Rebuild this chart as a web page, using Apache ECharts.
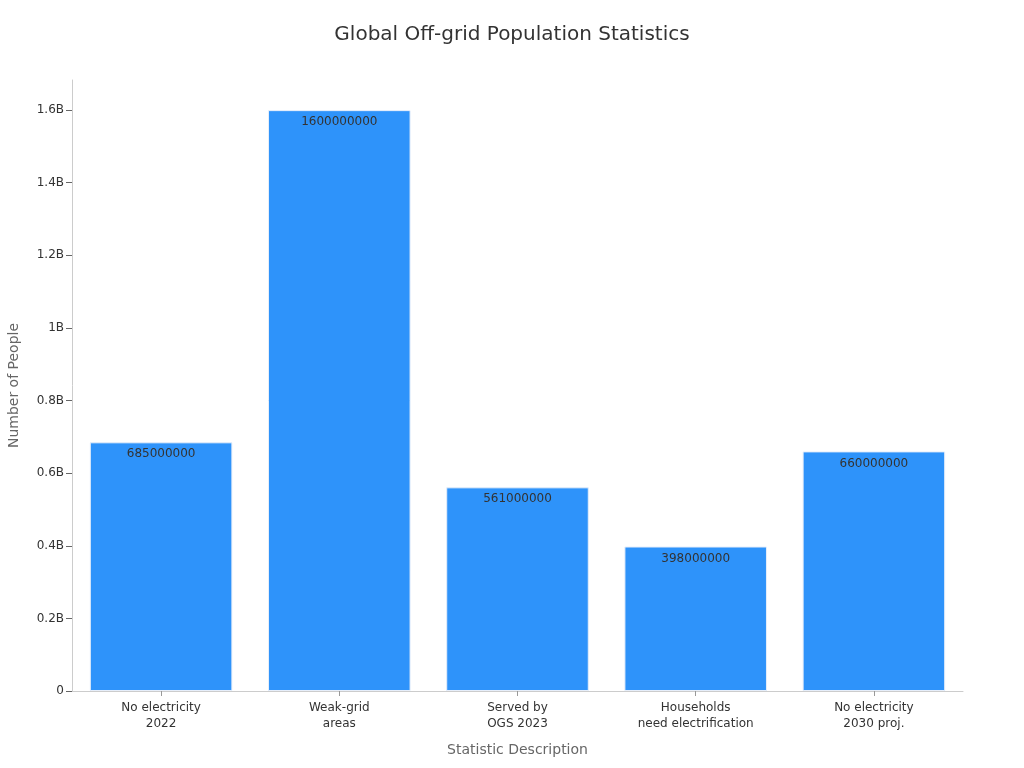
<!DOCTYPE html>
<html>
<head>
<meta charset="utf-8">
<script src="https://cdn.jsdelivr.net/npm/echarts@6/dist/echarts.min.js"></script>
<style>
  html, body { margin: 0; padding: 0; background: #fff; }
  #main { width: 1024px; height: 768px; }
</style>
</head>
<body>
<div id="main"></div>
<script>
const categories = [
  "No electricity\n2022",
  "Weak-grid\nareas",
  "Served by\nOGS 2023",
  "Households\nneed electrification",
  "No electricity\n2030 proj."
];
const people = [685000000, 1600000000, 561000000, 398000000, 660000000];
const yTicks = [0, 200000000, 400000000, 600000000, 800000000, 1000000000, 1200000000, 1400000000, 1600000000];

const fmt = (v) => {
  if (v === 0) return "0";
  return parseFloat((v / 1e9).toFixed(1)) + "B";
};

const chart = echarts.init(document.getElementById("main"));
chart.setOption({
  animation: false,
  textStyle: { fontFamily: "DejaVu Sans" },
  title: {
    text: "Global Off-grid Population Statistics",
    left: "center",
    top: 20,
    textStyle: { fontSize: 20, fontWeight: "normal", color: "#333" }
  },
  grid: { left: 72, right: 61, top: 80, bottom: 77, containLabel: false, outerBoundsMode: "none" },
  xAxis: {
    type: "category",
    data: categories,
    name: "Statistic Description",
    nameLocation: "middle",
    nameGap: 52,
    nameTextStyle: { fontSize: 14, color: "#666" },
    axisLine: { show: true, lineStyle: { color: "#ccc" } },
    axisTick: { show: true, alignWithLabel: true, length: 5, lineStyle: { color: "#999" } },
    axisLabel: { fontSize: 12, color: "#333", lineHeight: 16, margin: 9 }
  },
  yAxis: {
    type: "value",
    min: 0,
    max: 1683000000,
    name: "Number of People",
    nameLocation: "middle",
    nameGap: 51,
    nameTextStyle: { fontSize: 14, color: "#666" },
    splitLine: { show: false },
    axisLine: { show: true, lineStyle: { color: "#ccc" } },
    axisTick: { show: true, length: 6, customValues: yTicks, lineStyle: { color: "#666" } },
    axisLabel: { fontSize: 12, color: "#333", margin: 8, customValues: yTicks, formatter: fmt }
  },
  series: [{
    type: "bar",
    data: people,
    barWidth: "80%",
    itemStyle: { color: "#2E93FA", borderColor: "#e6eefa", borderWidth: 1 },
    label: {
      show: true,
      position: "insideTop",
      distance: 6,
      color: "#333",
      fontSize: 12
    }
  }]
});
</script>
</body>
</html>
